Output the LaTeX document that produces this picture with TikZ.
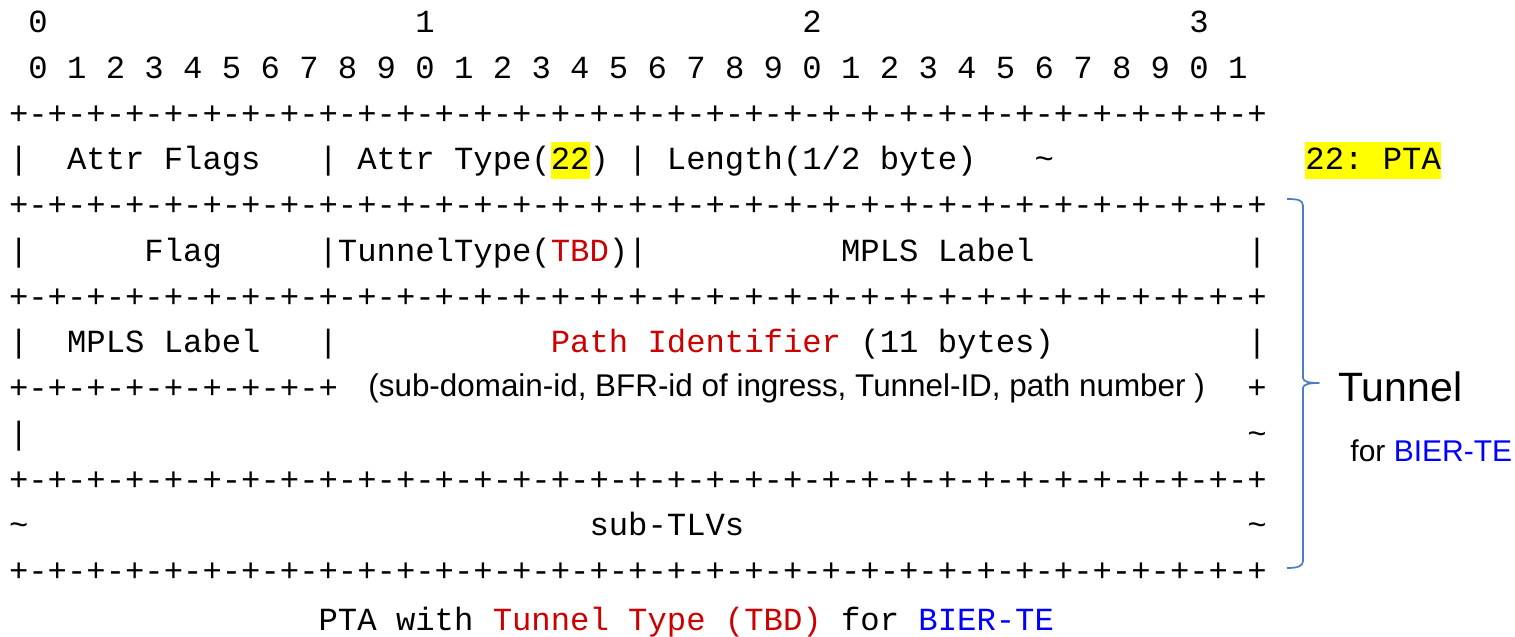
\documentclass[tikz,border=0pt]{standalone}
\usepackage{fontspec}
\newfontfamily\monofnt{Liberation Mono}
\newfontfamily\sansfnt{Liberation Sans}
\definecolor{tred}{HTML}{CC0000}
\definecolor{tblue}{HTML}{0000FF}
\definecolor{bracecol}{HTML}{4A7EC1}
\definecolor{hlyellow}{HTML}{FFFF00}
\newcommand\plusline{+-+-+-+-+-+-+-+-+-+-+-+-+-+-+-+-+-+-+-+-+-+-+-+-+-+-+-+-+-+-+-+-+}
\newcommand\tld{\textasciitilde}
\frenchspacing
\pgfmathdeclarefunction{cx}{1}{\pgfmathparse{8.625+19.35*#1}}
\begin{document}
\begin{tikzpicture}[x=0.5pt,y=-0.5pt,
  mt/.style={font=\monofnt\fontsize{16.125pt}{18pt}\selectfont, inner sep=0pt, anchor=base west},
  red/.style={text=tred},
  blu/.style={text=tblue},
  hl/.style={fill=hlyellow, text height=14pt, text depth=4.5pt},
  st/.style={font=\sansfnt\fontsize{15.7pt}{18pt}\selectfont, inner sep=0pt, anchor=base west},
  bigst/.style={font=\sansfnt\fontsize{20.5pt}{24pt}\selectfont, inner sep=0pt, anchor=base west},
  midst/.style={font=\sansfnt\fontsize{15pt}{18pt}\selectfont, inner sep=0pt, anchor=base west},
  bracestyle/.style={draw=bracecol, line width=0.85pt, line join=round}]
\useasboundingbox (0,0) rectangle (1515,637);
% row 0: byte numbers
\node[mt] (h0) at ({cx(1)},32.6) {0};
\node[mt] (h1) at ({cx(21)},32.6) {1};
\node[mt] (h2) at ({cx(41)},32.6) {2};
\node[mt] (h3) at ({cx(61)},32.6) {3};
% row 1: bit numbers
\node[mt] (bits) at ({cx(1)},78.35) {0 1 2 3 4 5 6 7 8 9 0 1 2 3 4 5 6 7 8 9 0 1 2 3 4 5 6 7 8 9 0 1};
% row 2
\node[mt] (l2) at ({cx(0)},124.1) {\plusline};
% row 3
\node[mt] (r3a) at ({cx(0)},169.85) {|};
\node[mt] (r3b) at ({cx(3)},169.85) {Attr Flags};
\node[mt] (r3c) at ({cx(16)},169.85) {|};
\node[mt] (r3d) at ({cx(18)},169.85) {Attr Type(};
\node[mt,hl] (r3e) at ({cx(28)},169.85) {22};
\node[mt] (r3f) at ({cx(30)},169.85) {)};
\node[mt] (r3g) at ({cx(32)},169.85) {|};
\node[mt] (r3h) at ({cx(34)},169.85) {Length(1/2 byte)};
\node[mt] (r3i) at ({cx(53)},169.85) {\tld};
\node[mt,hl] (pta) at ({cx(67)},169.85) {22: PTA};
% row 4
\node[mt] (l4) at ({cx(0)},215.6) {\plusline};
% row 5
\node[mt] (r5a) at ({cx(0)},261.35) {|};
\node[mt] (r5b) at ({cx(7)},261.35) {Flag};
\node[mt] (r5c) at ({cx(16)},261.35) {|};
\node[mt] (r5d) at ({cx(17)},261.35) {TunnelType(};
\node[mt,red] (r5e) at ({cx(28)},261.35) {TBD};
\node[mt] (r5f) at ({cx(31)},261.35) {)|};
\node[mt] (r5g) at ({cx(43)},261.35) {MPLS Label};
\node[mt] (r5h) at ({cx(64)},261.35) {|};
% row 6
\node[mt] (l6) at ({cx(0)},307.1) {\plusline};
% row 7
\node[mt] (r7a) at ({cx(0)},352.85) {|};
\node[mt] (r7b) at ({cx(3)},352.85) {MPLS Label};
\node[mt] (r7c) at ({cx(16)},352.85) {|};
\node[mt,red] (r7d) at ({cx(28)},352.85) {Path Identifier};
\node[mt] (r7e) at ({cx(44)},352.85) {(11 bytes)};
\node[mt] (r7f) at ({cx(64)},352.85) {|};
% row 8
\node[mt] (r8a) at ({cx(0)},398.6) {+-+-+-+-+-+-+-+-+};
\node[st] (r8b) at (368,396) {(sub-domain-id, BFR-id of ingress, Tunnel-ID, path number )};
\node[mt] (r8c) at ({cx(64)},398.6) {+};
% row 9
\node[mt] (r9a) at ({cx(0)},444.35) {|};
\node[mt] (r9b) at ({cx(64)},444.35) {\tld};
% row 10
\node[mt] (l10) at ({cx(0)},490.1) {\plusline};
% row 11
\node[mt] (r11a) at ({cx(0)},535.85) {\tld};
\node[mt] (r11b) at ({cx(30)},535.85) {sub-TLVs};
\node[mt] (r11c) at ({cx(64)},535.85) {\tld};
% row 12
\node[mt] (l12) at ({cx(0)},581.6) {\plusline};
% caption
\node[mt] (c1) at ({cx(16)},630) {PTA with};
\node[mt,red] (c2) at ({cx(25)},630) {Tunnel Type (TBD)};
\node[mt] (c3) at ({cx(43)},630) {for};
\node[mt,blu] (c4) at ({cx(47)},630) {BIER-TE};
% brace and side labels
\draw[bracestyle] (1287,199) .. controls (1298,199) and (1303,200) .. (1303,206)
  -- (1303,378) .. controls (1303,382) and (1310,383) .. (1319,383)
  .. controls (1310,383) and (1303,384) .. (1303,388)
  -- (1303,561) .. controls (1303,566) and (1298,568) .. (1287,568);
\node[bigst] (tun) at (1338,401) {Tunnel};
\node[midst] (forb) at (1350,461) {for \textcolor{tblue}{BIER-TE}};
\end{tikzpicture}
\end{document}
